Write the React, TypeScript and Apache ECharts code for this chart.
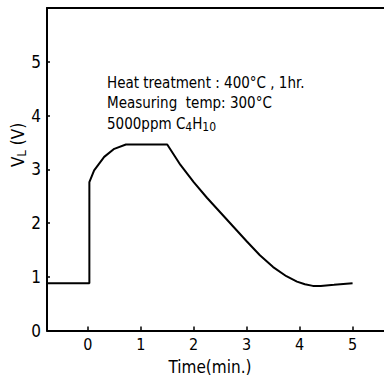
import React, { useEffect, useRef } from "react";
import * as echarts from "echarts";

const timeMin = [-0.77, 0.03, 0.03, 0.12, 0.31, 0.5, 0.72, 1.0, 1.25, 1.5, 1.75, 2.0, 2.25, 2.5, 2.75, 3.0, 3.25, 3.5, 3.75, 3.95, 4.1, 4.25, 4.4, 4.65, 5.0];
const voltage = [0.88, 0.88, 2.76, 2.98, 3.23, 3.38, 3.46, 3.46, 3.46, 3.46, 3.08, 2.76, 2.47, 2.2, 1.93, 1.66, 1.4, 1.18, 1.01, 0.91, 0.86, 0.83, 0.83, 0.85, 0.88];
const xTickValues = [0, 1, 2, 3, 4, 5];
const yTickValues = [0, 1, 2, 3, 4, 5];
const annotationLine1 = "Heat treatment : 400°C , 1hr.";
const annotationLine2 = "Measuring  temp: 300°C";
const annotationLine3 = "{m|5000ppm C}{s|4}{m|H}{s|10}";
const xName = "Time(min.)";
const yName = "{m|V}{s|L}{m| (V)}";

const FONT = '"Liberation Sans Narrow", "DejaVu Sans Condensed", sans-serif';

export default function App() {
  const ref = useRef<HTMLDivElement>(null);
  useEffect(() => {
    if (!ref.current) return;
    const chart = echarts.init(ref.current, undefined, { renderer: "svg" });
    const pairs = timeMin.map((t, i) => [t, voltage[i]]);
    const axisLineStyle = { color: "#000", width: 2 };
    chart.setOption({
      animation: false,
      backgroundColor: "#fff",
      textStyle: { fontFamily: FONT },
      grid: { left: 47, right: -3, top: 8, bottom: 49.5, containLabel: false, outerBoundsMode: "none" },
      xAxis: [
        {
          type: "value",
          min: -0.77,
          max: 5.65,
          position: "bottom",
          axisLine: { show: true, onZero: false, lineStyle: axisLineStyle },
          axisTick: { show: true, inside: true, length: 4, customValues: xTickValues, lineStyle: { color: "#000", width: 1.5 } },
          axisLabel: { customValues: xTickValues, margin: 6, color: "#000", fontSize: 16, fontFamily: FONT },
          splitLine: { show: false },
        },
        {
          type: "value",
          min: -0.77,
          max: 5.65,
          position: "top",
          axisLine: { show: true, onZero: false, lineStyle: axisLineStyle },
          axisTick: { show: false },
          axisLabel: { show: false },
          splitLine: { show: false },
        },
      ],
      yAxis: {
        type: "value",
        min: 0,
        max: 6,
        interval: 1,
        axisLine: { show: true, onZero: false, lineStyle: axisLineStyle },
        axisTick: { show: true, inside: true, length: 3, customValues: yTickValues, lineStyle: { color: "#000", width: 1.5 } },
        axisLabel: { customValues: yTickValues, margin: 6, color: "#000", fontSize: 17, fontFamily: FONT },
        splitLine: { show: false },
      },
      graphic: [
        {
          type: "text",
          x: 107,
          y: 83,
          style: { text: annotationLine1, fontSize: 15, fontFamily: FONT, fill: "#000", verticalAlign: "middle" },
        },
        {
          type: "text",
          x: 107,
          y: 103,
          style: { text: annotationLine2, fontSize: 15, fontFamily: FONT, fill: "#000", verticalAlign: "middle" },
        },
        {
          type: "text",
          x: 107,
          y: 124,
          style: {
            text: annotationLine3,
            fontFamily: FONT,
            fill: "#000",
            verticalAlign: "middle",
            rich: {
              m: { fontSize: 15, fontFamily: FONT, lineHeight: 18, fill: "#000" },
              s: { fontSize: 12, fontFamily: FONT, lineHeight: 14, padding: [8, 0, 0, 0], verticalAlign: "bottom", fill: "#000" },
            },
          },
        },
        {
          type: "text",
          x: 210,
          y: 367,
          style: { text: xName, fontSize: 17, fontFamily: FONT, fill: "#000", align: "center", verticalAlign: "middle" },
        },
        {
          type: "text",
          x: 18,
          y: 145,
          rotation: Math.PI / 2,
          style: {
            text: yName,
            fontFamily: FONT,
            fill: "#000",
            align: "center",
            verticalAlign: "middle",
            rich: {
              m: { fontSize: 17, fontFamily: FONT, lineHeight: 20, fill: "#000" },
              s: { fontSize: 13, fontFamily: FONT, lineHeight: 15, padding: [9, 0, 0, 0], verticalAlign: "bottom", fill: "#000" },
            },
          },
        },
      ],
      series: [
        {
          type: "line",
          xAxisIndex: 0,
          data: pairs,
          showSymbol: false,
          smooth: false,
          lineStyle: { color: "#000", width: 2 },
        },
      ],
    });
    return () => chart.dispose();
  }, []);
  return <div ref={ref} style={{ position: "fixed", left: 0, top: 0, width: 384, height: 380, background: "#fff" }} />;
}
